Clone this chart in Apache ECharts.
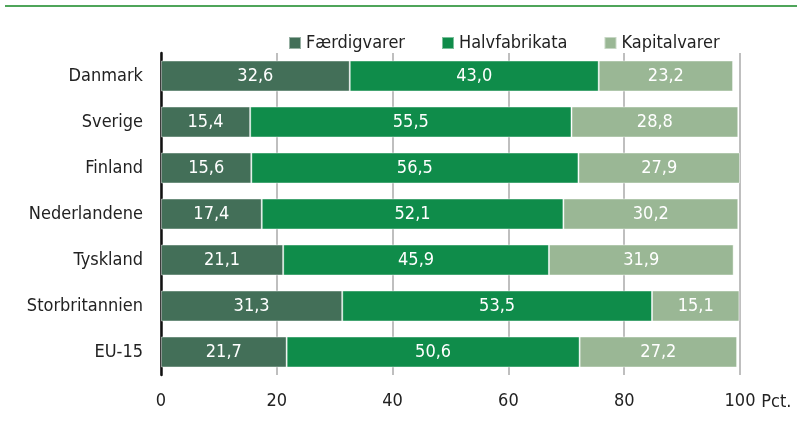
<!DOCTYPE html>
<html>
<head>
<meta charset="utf-8">
<script src="https://cdn.jsdelivr.net/npm/echarts@6/dist/echarts.min.js"></script>
<style>
  html, body { margin: 0; padding: 0; background: #fff; }
  #chart { width: 797px; height: 422px; }
</style>
</head>
<body>
<div id="chart"></div>
<script>
// lande og andele (pct.)
const countries = ['Danmark', 'Sverige', 'Finland', 'Nederlandene', 'Tyskland', 'Storbritannien', 'EU-15']
const faerdigvarer = [32.6, 15.4, 15.6, 17.4, 21.1, 31.3, 21.7]
const halvfabrikata = [43.0, 55.5, 56.5, 52.1, 45.9, 53.5, 50.6]
const kapitalvarer = [23.2, 28.8, 27.9, 30.2, 31.9, 15.1, 27.2]
const xTicks = [0, 20, 40, 60, 80, 100]

const FONT = '"DejaVu Sans Condensed", "Open Sans", sans-serif'
const chart = echarts.init(document.getElementById('chart'))

const fmt = p => p.value.toFixed(1).replace('.', ',')

function makeSeries(name, data, color) {
  return {
    name,
    type: 'bar',
    stack: 'total',
    data,
    barWidth: 31,
    itemStyle: { color, borderColor: 'rgba(255,255,255,0.45)', borderWidth: 1 },
    label: {
      show: true,
      position: 'inside',
      formatter: fmt,
      color: '#fff',
      fontFamily: FONT,
      fontSize: 18
    }
  }
}

chart.setOption({
  textStyle: { fontFamily: FONT },
  graphic: [{
    type: 'line',
    shape: { x1: 5, y1: 6, x2: 797, y2: 6 },
    style: { stroke: '#4fa55a', lineWidth: 2 }
  }],
  legend: {
    top: 29,
    left: 283,
    itemWidth: 12,
    itemHeight: 12,
    itemGap: 36,
    icon: 'rect',
    textStyle: { fontFamily: FONT, fontSize: 18, color: '#222' }
  },
  grid: { left: 161, right: 57, top: 53, bottom: 47 },
  xAxis: {
    type: 'value',
    min: 0,
    max: 100,
    interval: 20,
    axisLine: { show: false },
    axisTick: { show: false },
    splitLine: { show: true, lineStyle: { color: '#aaa', width: 1.5 } },
    axisLabel: {
      color: '#222',
      fontSize: 18,
      fontFamily: FONT,
      margin: 17,
      formatter: v => xTicks.includes(v) ? String(v) : ''
    },
    name: 'Pct.',
    nameLocation: 'end',
    nameGap: 6,
    nameTextStyle: {
      color: '#222',
      fontSize: 18,
      fontFamily: FONT,
      verticalAlign: 'top',
      padding: [18, 0, 0, 12]
    }
  },
  yAxis: {
    type: 'category',
    data: countries,
    inverse: true,
    axisLine: { show: true, lineStyle: { color: '#111', width: 2.5 } },
    axisTick: { show: false },
    axisLabel: { color: '#222', fontSize: 18, fontFamily: FONT, margin: 18 }
  },
  series: [
    makeSeries('Færdigvarer', faerdigvarer, '#436f58'),
    makeSeries('Halvfabrikata', halvfabrikata, '#0f8c4a'),
    makeSeries('Kapitalvarer', kapitalvarer, '#9ab795')
  ]
})
</script>
</body>
</html>
